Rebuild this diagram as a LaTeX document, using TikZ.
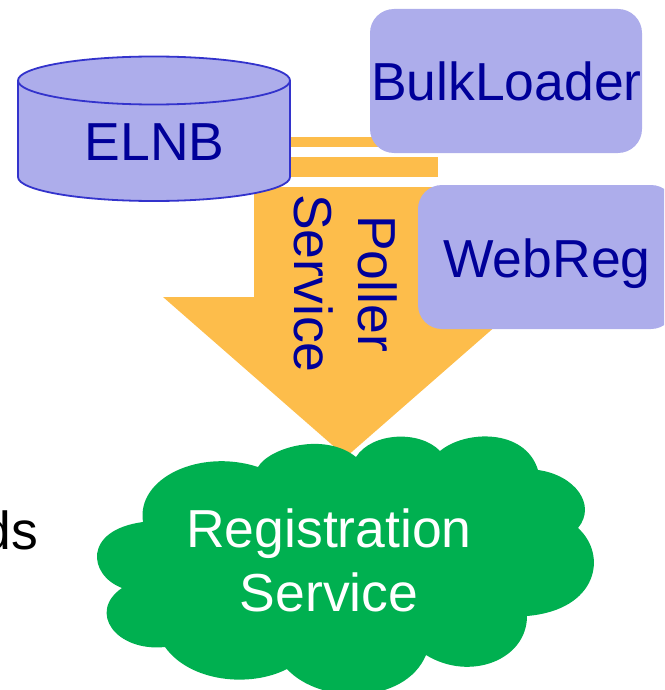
\documentclass[tikz,border=0pt]{standalone}
\usepackage{fontspec}
\setmainfont{Liberation Sans}
\definecolor{barfill}{HTML}{FDBD4B}
\definecolor{boxfill}{HTML}{ADADEB}
\definecolor{boxtext}{HTML}{000099}
\definecolor{boxline}{HTML}{3333CC}
\definecolor{cloudfill}{HTML}{00B050}
\tikzset{
  bar/.style={fill=barfill,draw=none},
  roundbox/.style={fill=boxfill,draw=none,rounded corners=24pt},
  label/.style={inner sep=0pt,anchor=base,font=\fontsize{53.5}{60}\selectfont},
  bluelabel/.style={label,text=boxtext},
  whitelabel/.style={label,text=white},
  cyl/.style={fill=boxfill,draw=boxline,line width=1.8pt}
}
\begin{document}
\begin{tikzpicture}[x=1pt,y=-1pt]
\useasboundingbox (0,0) rectangle (664,690);
\clip (0,0) rectangle (664,690);
% arrow
\fill[bar] (290,137) rectangle (400,147);
\fill[bar] (290,157) rectangle (438,177);
\fill[bar] (254,187) -- (438,187) -- (438,297) -- (529,297) -- (346,457) -- (163,297) -- (254,297) -- cycle;
% boxes
\fill[roundbox] (370,9) rectangle (642,153);
\fill[roundbox] (418,185) rectangle (675,329);
% cylinder
\draw[cyl] (18,80.5) -- (18,177) .. controls (18,190.3) and (78.9,201) .. (154,201) .. controls (229.1,201) and (290,190.3) .. (290,177) -- (290,80.5);
\draw[cyl] (154,80.5) ellipse[x radius=136,y radius=24];
% cloud
\fill[cloudfill] (258,467)
  .. controls (270,447) and (325,432) .. (356,457)
  .. controls (372,432) and (420,430) .. (440,451)
  .. controls (465,430) and (525,428) .. (538,470)
  .. controls (575,475) and (597,505) .. (578,528)
  .. controls (608,555) and (598,610) .. (527,616)
  .. controls (527,660) and (470,682) .. (426,655)
  .. controls (405,705) and (320,705) .. (287,669)
  .. controls (250,688) and (190,682) .. (165,647)
  .. controls (116,652) and (87,612) .. (122,588)
  .. controls (88,575) and (83,530) .. (143,522)
  .. controls (136,478) and (200,448) .. (258,467)
  -- cycle;
% labels
\node[bluelabel] (elnb) at (154.5,160.7) {ELNB};
\node[bluelabel] (bulk) at (506.5,101) {BulkLoader};
\node[bluelabel] (web) at (547,277) {WebReg};
\node[bluelabel,rotate=-90] (service) at (294.5,283.5) {Service};
\node[bluelabel,rotate=-90] (poller) at (358.5,283.5) {Poller};
\node[whitelabel] (reg) at (329,547) {Registration};
\node[whitelabel] (regs) at (329,611) {Service};
\node[label,anchor=base east] (frag) at (38,549) {ds};
\end{tikzpicture}
\end{document}
